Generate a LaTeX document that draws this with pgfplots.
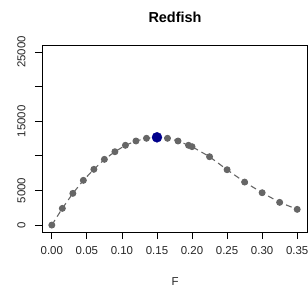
\documentclass[border=0pt]{standalone}
\usepackage{pgfplots}
\pgfplotsset{compat=1.18}
\usepackage{fontspec}
\setmainfont{Liberation Sans}
\definecolor{ptgray}{RGB}{102,102,102}
\definecolor{ptblue}{RGB}{0,0,139}
\begin{document}
\begin{tikzpicture}
\useasboundingbox (0,0) rectangle (308bp,291bp);
\begin{axis}[
  at={(42bp,59bp)}, anchor=south west,
  width=265bp, height=187bp, scale only axis,
  xmin=-0.014, xmax=0.364, ymin=-1000, ymax=26000,
  scaled y ticks=false, scaled x ticks=false,
  axis line style={line width=0.9pt},
  tick align=outside, tick pos=left,
  major tick length=7bp,
  every tick/.style={black, line width=0.8pt},
  xtick={0,0.05,0.1,0.15,0.2,0.25,0.3,0.35},
  xticklabels={0.00,0.05,0.10,0.15,0.20,0.25,0.30,0.35},
  ytick={0,5000,10000,15000,20000,25000},
  yticklabels={0,5000,,15000,,25000},
  ticklabel style={font=\fontsize{11.5}{13}\selectfont, text=black!85},
  xticklabel style={yshift=-4bp},
  yticklabel style={xshift=-6bp, rotate=90, anchor=south},
  clip=false,
]
\addplot[ptgray, line width=1.1pt, dash pattern=on 6bp off 4bp,
  mark=*, mark size=2.9bp, mark options={solid, fill=ptgray, draw=ptgray}]
  coordinates {
  (0,0) (0.015,2410) (0.03,4580) (0.045,6460) (0.06,8050) (0.075,9490)
  (0.09,10590) (0.105,11520) (0.12,12140) (0.135,12530) (0.15,12670)
  (0.165,12530) (0.18,12140) (0.195,11520) (0.2,11320) (0.225,9870)
  (0.25,7990) (0.275,6210) (0.3,4670) (0.325,3280) (0.35,2270)
  };
\addplot[only marks, mark=*, mark size=5bp, mark options={fill=ptblue, draw=ptblue}]
  coordinates {(0.15,12670)};
\end{axis}
\node[font=\bfseries\fontsize{14.5}{16}\selectfont] at (175bp,274bp) {Redfish};
\node[font=\fontsize{11.5}{13}\selectfont, text=black!85] at (175bp,9bp) {F};
\end{tikzpicture}
\end{document}
